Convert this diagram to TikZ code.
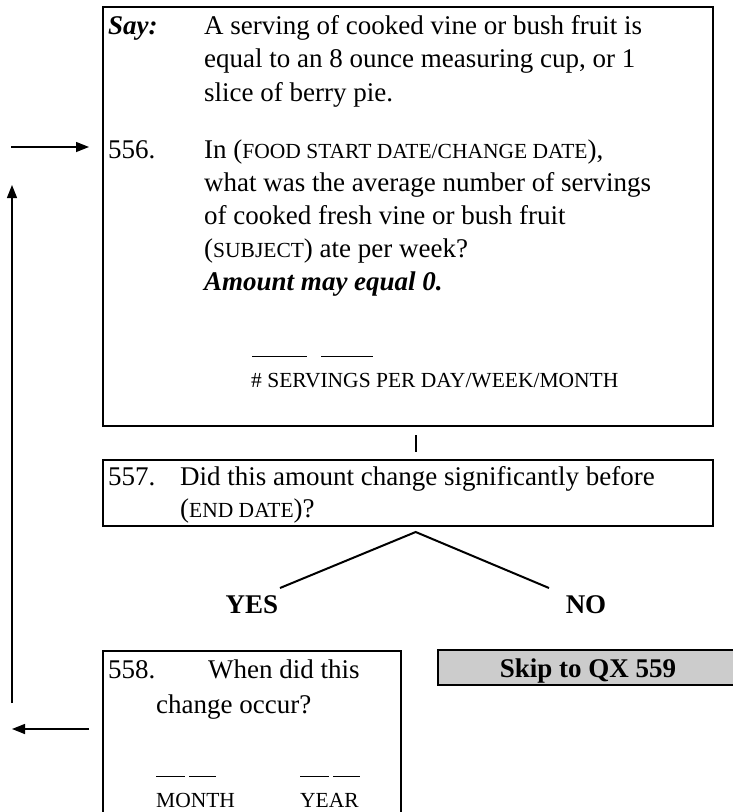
\documentclass[tikz,border=0pt]{standalone}
\usepackage{fontspec}
\setmainfont{Liberation Serif}
\usetikzlibrary{arrows.meta}
\definecolor{skipgray}{HTML}{CCCCCC}
\newcommand\smc[1]{{\fontsize{21.5}{26}\selectfont #1}}
\newcommand\blankrule[1]{\rule{#1}{1.3pt}}
\begin{document}
\begin{tikzpicture}[x=1pt,y=-1pt,
  box/.style={draw, line width=2pt, inner sep=0pt},
  txt/.style={anchor=base west, inner sep=0pt, font=\fontsize{27}{33}\selectfont},
  ctxt/.style={anchor=base, inner sep=0pt, font=\fontsize{27}{33}\selectfont\bfseries},
  link/.style={line width=2pt},
  arr/.style={line width=1.4pt, -{Triangle[length=13pt,width=10pt]}}]
\useasboundingbox (0,0) rectangle (733,812);
\clip (0,0) rectangle (733,812);

% boxes
\node[box, minimum width=610pt, minimum height=419pt] (q556) at (408,216.5) {};
\node[box, minimum width=610pt, minimum height=66pt] (q557) at (408,493) {};
\node[box, minimum width=298pt, minimum height=190pt] (q558) at (252,746) {};
\node[box, fill=skipgray, minimum width=312pt, minimum height=35pt] (skip) at (594,667.5) {};

% texts of 556
\node[txt] (say) at (108,34) {\bfseries\itshape Say:};
\node[txt] (s1) at (204,34) {A serving of cooked vine or bush fruit is};
\node[txt] (s2) at (204,67.5) {equal to an 8 ounce measuring cup, or 1};
\node[txt] (s3) at (204,101) {slice of berry pie.};
\node[txt] (n556) at (108,158) {556.};
\node[txt] (a1) at (204,158) {In (\smc{FOOD START DATE/CHANGE DATE}),};
\node[txt] (a2) at (204,191) {what was the average number of servings};
\node[txt] (a3) at (204,224) {of cooked fresh vine or bush fruit};
\node[txt] (a4) at (204,257) {(\smc{SUBJECT}) ate per week?};
\node[txt] (a5) at (204,290) {\bfseries\itshape Amount may equal 0.};
\node[txt] (b556) at (252,357) {\blankrule{55pt}\hspace{14pt}\blankrule{52pt}};
\node[txt] (serv) at (251,387) {\smc{\# SERVINGS PER DAY/WEEK/MONTH}};

% texts of 557
\node[txt] (n557) at (108,485) {557.};
\node[txt] (c1) at (180,485) {Did this amount change significantly before};
\node[txt] (c2) at (180,517) {(\smc{END DATE})?};

% answers
\node[ctxt] (yes) at (252,613) {YES};
\node[ctxt] (no) at (586,613) {NO};

% texts of 558
\node[txt] (n558) at (108,678) {558.};
\node[txt] (d1) at (208,678) {When did this};
\node[txt] (d2) at (156,713) {change occur?};
\node[txt] (bm) at (156,777) {\blankrule{29pt}\hspace{4pt}\blankrule{27pt}};
\node[txt] (by) at (300,777) {\blankrule{29pt}\hspace{4pt}\blankrule{27pt}};
\node[txt] (month) at (156,807) {\smc{MONTH}};
\node[txt] (year) at (300,807) {\smc{YEAR}};

% skip text
\node[ctxt] (skiptxt) at (588,677) {Skip to QX 559};

% connectors
\draw[link] ([xshift=7.7pt,yshift=-8pt]q556.south) -- ([xshift=7.7pt,yshift=7pt]q557.north);
\coordinate (apex) at (415.7,532);
\coordinate (yesend) at (280,588);
\coordinate (noend) at (549,588);
\draw[link] (yesend) -- (apex) -- (noend);

\coordinate (loopbot) at (12,703);
\coordinate (looptop) at (12,185);
\draw[arr] (loopbot) -- (looptop);
\coordinate (instart) at (11,147);
\coordinate (inend) at (89,147);
\draw[arr] (instart) -- (inend);
\coordinate (outstart) at (89,729);
\coordinate (outend) at (12,729);
\draw[arr] (outstart) -- (outend);
\end{tikzpicture}
\end{document}
